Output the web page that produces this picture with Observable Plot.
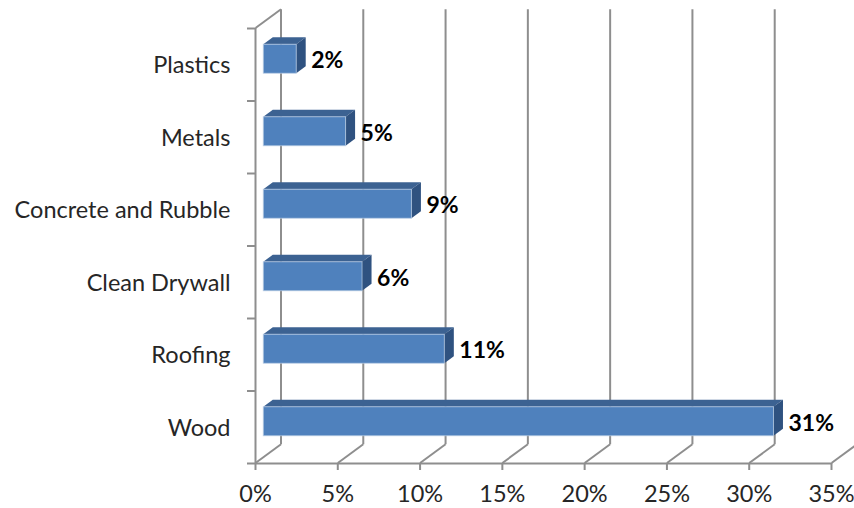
<!DOCTYPE html>
<html>
<head>
<meta charset="utf-8">
<script src="https://cdn.jsdelivr.net/npm/d3@7"></script>
<script src="https://cdn.jsdelivr.net/npm/@observablehq/plot@0.6"></script>
<style>
  html, body { margin: 0; padding: 0; background: #fff; overflow: hidden; }
</style>
</head>
<body>
<div id="chart"></div>
<script>
// Share of waste by material
const materials = ["Plastics", "Metals", "Concrete and Rubble", "Clean Drywall", "Roofing", "Wood"];
const shares = [2, 5, 9, 6, 11, 31];
const axisTicks = [0, 5, 10, 15, 20, 25, 30, 35];

const rows = materials.map((material, i) => ({material, share: shares[i]}));

const width = 854, height = 508;
const margin = {top: 28, right: 23, bottom: 45, left: 255};
const band = (height - margin.top - margin.bottom) / materials.length;

// Pseudo-3D offsets, in pixels
const wallX = 25.5, wallY = 18.7;
const barX = 8.3, barY = -5.5, barDepthX = 9.5, barDepthY = 7, barInset = (band - 29) / 2;

const gridColor = "#8e8e8e";
const font = "Lato, 'Noto Sans', sans-serif";

// Turns a rule into the slanted floor or ceiling edge that starts at its given end
const slant = (end) => (index, scales, values, dims, ctx, next) => {
  const g = next(index, scales, values, dims, ctx);
  d3.select(g).selectAll("line").each(function () {
    const line = d3.select(this);
    const x = +line.attr("x1"), y = +line.attr(end);
    line.attr("x1", x).attr("y1", y).attr("x2", x + wallX).attr("y2", y - wallY);
  });
  return g;
};

// Replaces each bar's rect with the parallelogram of one extruded face
const face = (corners) => (index, scales, values, dims, ctx, next) => {
  const g = next(index, scales, values, dims, ctx);
  d3.select(g).selectAll("rect").each(function () {
    const r = d3.select(this);
    const [x, y, w, h] = ["x", "y", "width", "height"].map((a) => +r.attr(a));
    const poly = document.createElementNS("http://www.w3.org/2000/svg", "polygon");
    poly.setAttribute("points", corners(x, y, w, h).join(" "));
    this.replaceWith(poly);
  });
  return g;
};
const topFace = face((x, y, w) => [[x, y], [x + w, y], [x + w + barDepthX, y - barDepthY], [x + barDepthX, y - barDepthY]]);
const sideFace = face((x, y, w, h) => [[x + w, y], [x + w + barDepthX, y - barDepthY], [x + w + barDepthX, y + h - barDepthY], [x + w, y + h]]);

const barOptions = {x: "share", y: "material", dx: barX, dy: barY, insetTop: barInset, insetBottom: barInset};
const tickReach = -8 / ((width - margin.left - margin.right) / 35);

const chart = Plot.plot({
  width, height,
  marginTop: margin.top, marginRight: margin.right, marginBottom: margin.bottom, marginLeft: margin.left,
  style: {background: "transparent", fontFamily: font},
  x: {domain: [0, 35], range: [margin.left, width - margin.right], axis: null},
  y: {domain: materials, padding: 0, round: false, axis: null},
  marks: [
    // Back wall and floor
    Plot.ruleX(axisTicks, {dx: wallX, dy: -wallY, stroke: gridColor, strokeWidth: 2}),
    Plot.ruleX(axisTicks, {stroke: gridColor, strokeWidth: 2, render: slant("y2")}),
    Plot.ruleX([0], {stroke: gridColor, strokeWidth: 2, render: slant("y1")}),
    // Front axes
    Plot.ruleX([0], {stroke: gridColor, strokeWidth: 2}),
    Plot.ruleY(materials, {x1: tickReach, x2: 0, dy: -band / 2, stroke: gridColor, strokeWidth: 2}),
    Plot.ruleY(materials.slice(-1), {x1: tickReach, x2: 35, dy: band / 2, stroke: gridColor, strokeWidth: 2}),
    Plot.axisX(axisTicks, {
      anchor: "bottom", tickSize: 7, tickPadding: 15, tickFormat: (d) => `${d}%`,
      stroke: gridColor, strokeWidth: 2, strokeOpacity: 1,
      fontSize: 23.5, fontFamily: font, fill: "#262626", label: null
    }),
    Plot.axisY(materials, {
      anchor: "left", tickSize: 0, tickPadding: 25, dy: 1,
      fontSize: 23.5, fontFamily: font, fill: "#262626", label: null
    }),
    // Bars
    Plot.barX(rows, {...barOptions, fill: "#3c6292", render: topFace}),
    Plot.barX(rows, {...barOptions, fill: "#2f5280", render: sideFace}),
    Plot.barX(rows, {...barOptions, fill: "#4f81bd", stroke: "#b9cde5", strokeWidth: 1, strokeOpacity: 0.7}),
    // Value labels
    Plot.text(rows, {
      x: "share", y: "material", text: (d) => `${d.share}%`,
      dx: barX + barDepthX + 5, dy: -4, textAnchor: "start",
      fontSize: 23, fontWeight: 700, fontFamily: font, fill: "#000"
    })
  ]
});

document.getElementById("chart").append(chart);
</script>
</body>
</html>
